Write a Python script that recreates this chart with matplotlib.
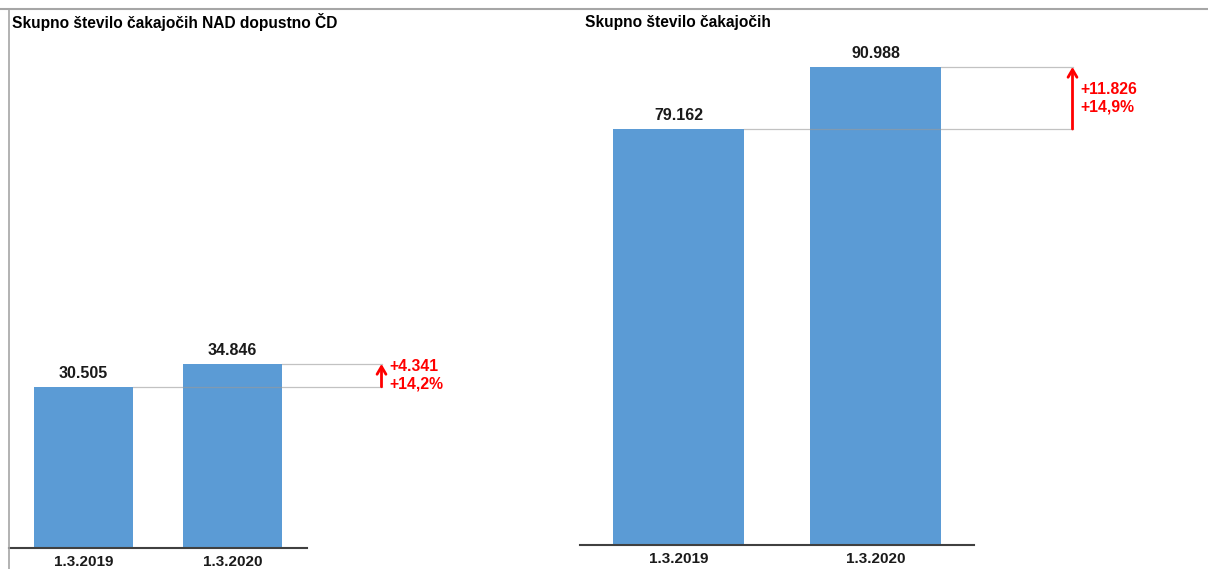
import matplotlib
matplotlib.use("Agg")
import matplotlib.pyplot as plt
from matplotlib.lines import Line2D

plt.rcParams["font.family"] = ["Liberation Sans", "DejaVu Sans"]

# data
dates = ["1.3.2019", "1.3.2020"]
nad_dopustno = [30505, 34846]
skupno = [79162, 90988]
titles = ["Skupno število čakajočih NAD dopustno ČD", "Skupno število čakajočih"]

BAR_COLOR = "#5B9BD5"
W, H = 1208, 569
YMAX = 102000


def fmt_int(v):
	return "{:,}".format(v).replace(",", ".")


def fmt_pct(v):
	return "{:.1f}%".format(v).replace(".", ",")


def drawPanel(ax, values, width, tickPad):
	x = list(range(len(values)))
	ax.bar(x, values, width=width, color=BAR_COLOR, zorder=2)
	for xi, v in zip(x, values):
		ax.annotate(fmt_int(v), (xi, v), xytext=(0, 4), textcoords="offset points",
			ha="center", va="bottom", fontsize=11.5, fontweight="bold", color="#1a1a1a")

	# connector lines from bar tops to the arrow
	ax.plot([x[0] + width / 2, 2.0], [values[0], values[0]], color="#9a9a9a", lw=0.9,
		alpha=0.6, zorder=3, clip_on=False)
	ax.plot([x[1] + width / 2, 2.0], [values[1], values[1]], color="#9a9a9a", lw=0.9,
		alpha=0.6, zorder=3, clip_on=False)

	ax.annotate("", xy=(2.0, values[1]), xytext=(2.0, values[0]),
		arrowprops=dict(arrowstyle="->,head_length=0.55,head_width=0.32", color="red", lw=2,
			shrinkA=0, shrinkB=0), annotation_clip=False)
	diff = values[1] - values[0]
	pct = diff / values[0] * 100
	ax.annotate("+{}\n+{}".format(fmt_int(diff), fmt_pct(pct)), (2.0, (values[0] + values[1]) / 2),
		xytext=(6, 0), textcoords="offset points", ha="left", va="center",
		fontsize=11.3, fontweight="bold", color="red", annotation_clip=False)

	ax.set_xlim(-0.5, 1.5)
	ax.set_ylim(0, YMAX)
	ax.set_xticks(x)
	ax.set_xticklabels(dates, fontsize=11, fontweight="bold", color="#1a1a1a")
	ax.tick_params(axis="x", length=0, pad=tickPad)
	ax.set_yticks([])
	for side in ["top", "right", "left"]:
		ax.spines[side].set_visible(False)
	ax.spines["bottom"].set_color("#404040")
	ax.spines["bottom"].set_linewidth(1.5)


fig = plt.figure(figsize=(W / 100, H / 100), dpi=100)

axL = fig.add_axes([9 / W, (H - 548) / H, 298 / W, 539 / H])
drawPanel(axL, nad_dopustno, 0.66, 5)
axR = fig.add_axes([580 / W, (H - 545) / H, 394 / W, 536 / H])
drawPanel(axR, skupno, 0.67, 5)

fig.text(12 / W, 1 - 22 / H, titles[0], ha="left", va="center", fontsize=11.2, fontweight="bold")
fig.text(585 / W, 1 - 22 / H, titles[1], ha="left", va="center", fontsize=11.2, fontweight="bold")

# frame lines of the original screenshot
fig.add_artist(Line2D([0, 1], [1 - 8.5 / H, 1 - 8.5 / H], color="#a6a6a6", lw=1.5))
fig.add_artist(Line2D([9 / W, 9 / W], [0, 1 - 8.5 / H], color="#a6a6a6", lw=1.2))

fig.savefig("out.png", dpi=100)
